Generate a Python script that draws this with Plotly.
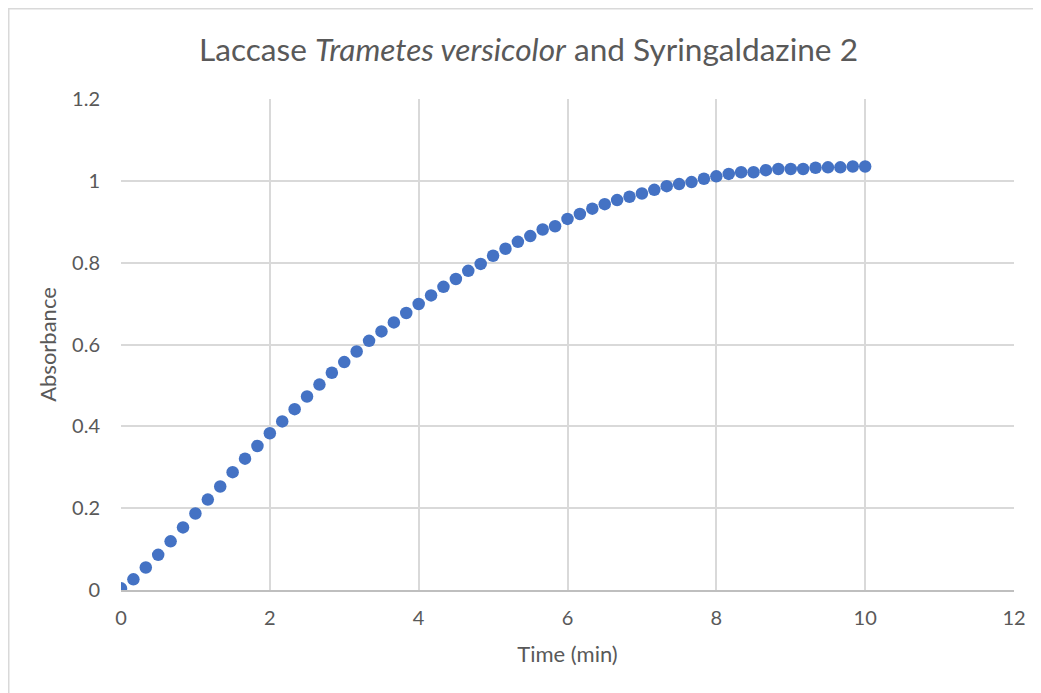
import plotly.graph_objects as go

time_min = [k / 6 for k in range(61)]
absorbance = [
    0.004, 0.026, 0.055, 0.086, 0.119, 0.153, 0.187, 0.221, 0.253, 0.288,
    0.321, 0.352, 0.383, 0.412, 0.442, 0.473, 0.502, 0.531, 0.557, 0.583,
    0.609, 0.632, 0.654, 0.677, 0.699, 0.720, 0.741, 0.760, 0.780, 0.797,
    0.817, 0.834, 0.851, 0.865, 0.881, 0.889, 0.907, 0.919, 0.932, 0.943,
    0.953, 0.961, 0.969, 0.978, 0.987, 0.992, 0.997, 1.005, 1.011, 1.017,
    1.021, 1.021, 1.026, 1.029, 1.029, 1.029, 1.032, 1.033, 1.033, 1.035,
    1.035,
]
x_ticks = [0, 2, 4, 6, 8, 10, 12]
y_ticks = [0, 0.2, 0.4, 0.6, 0.8, 1.0, 1.2]
y_tick_labels = ["0", "0.2", "0.4", "0.6", "0.8", "1", "1.2"]

FONT = "Lato"
TXT = "#595959"
GRID = "#D9D9D9"

W, H = 1041, 693
L, T, R, B = 113, 91, 35, 111
PW, PH = W - L - R, H - T - B

fig = go.Figure()
fig.add_trace(go.Scatter(
    x=time_min, y=absorbance, mode="markers",
    marker=dict(color="#4472C4", size=12.5, line=dict(width=0)),
    showlegend=False,
))

fig.update_layout(
    width=W, height=H,
    margin=dict(l=L, r=R, t=T, b=B),
    paper_bgcolor="white", plot_bgcolor="white",
    font=dict(family=FONT, color=TXT, size=20),
    title=dict(
        text="Laccase <i>Trametes versicolor</i> and Syringaldazine 2",
        x=0.5, xanchor="center", y=1 - 42 / H, yanchor="middle",
        font=dict(family=FONT, size=31.6, color=TXT),
    ),
    xaxis=dict(
        range=[0, 12], tickvals=x_ticks, showgrid=True, gridcolor=GRID, gridwidth=1.5,
        zeroline=False, showline=True, linecolor="#BFBFBF", linewidth=1.5,
        ticks="", ticklabelstandoff=9, tickfont=dict(size=20, color=TXT),
        title=dict(text="Time (min)", font=dict(size=22, color=TXT), standoff=19),
        fixedrange=True,
    ),
    yaxis=dict(
        range=[0, 1.2], tickvals=y_ticks, ticktext=y_tick_labels, showgrid=True,
        gridcolor=GRID, gridwidth=1.5, zeroline=False, showline=False,
        ticks="", ticklabelstandoff=20, tickfont=dict(size=20, color=TXT),
        title=dict(text="Absorbance", font=dict(size=22, color=TXT), standoff=9),
        fixedrange=True,
    ),
    shapes=[dict(
        type="rect", xref="paper", yref="paper",
        x0=(0.75 - L) / PW, x1=(W - 0.75 - L) / PW,
        y0=(PH - (H - T - 0.75)) / PH, y1=(PH + T - 0.75) / PH,
        line=dict(color="#D9D9D9", width=1.5), fillcolor="rgba(0,0,0,0)", layer="below",
    )],
)

fig.write_html("out.html")
